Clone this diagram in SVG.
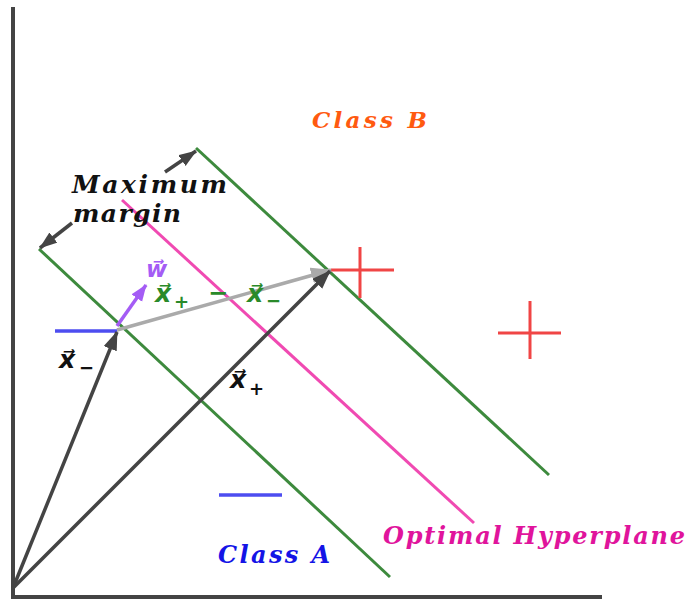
<svg xmlns="http://www.w3.org/2000/svg" width="692" height="601" viewBox="0 0 692 601">
<style>
.t{font-family:"DejaVu Serif","Liberation Serif",serif;font-weight:bold;font-style:italic}
.m{font-family:"DejaVu Sans","Liberation Sans",sans-serif;font-weight:bold;font-style:oblique}
.v{font-family:"DejaVu Sans","Liberation Sans",sans-serif;font-weight:bold;font-style:normal}
.green{stroke:#3d8a3d;stroke-width:3;fill:none}
.pink{stroke:#f04ab2;stroke-width:3;fill:none}
.red{stroke:#f04545;stroke-width:3;fill:none}
.blue{stroke:#4d4df0;stroke-width:3.5;fill:none}
.dark{stroke:#444;stroke-width:3.5;fill:none}
</style>
<defs>
<marker id="ad" markerUnits="userSpaceOnUse" markerWidth="22" markerHeight="16" refX="18" refY="7" orient="auto"><path d="M0,0 L19,7 L0,14 Z" fill="#444"/></marker>
<marker id="ag" markerUnits="userSpaceOnUse" markerWidth="24" markerHeight="18" refX="20" refY="8" orient="auto"><path d="M0,0 L21,8 L0,16 Z" fill="#aaa"/></marker>
<marker id="ap" markerUnits="userSpaceOnUse" markerWidth="22" markerHeight="16" refX="16" refY="6.5" orient="auto"><path d="M0,0 L17,6.5 L0,13 Z" fill="#a45cf5"/></marker>
<marker id="am" markerUnits="userSpaceOnUse" markerWidth="22" markerHeight="16" refX="17" refY="6.5" orient="auto"><path d="M0,0 L18,6.5 L0,13 Z" fill="#444"/></marker>
</defs>
<g id="axes">
<line x1="13" y1="7" x2="13" y2="597" stroke="#444" stroke-width="4"/>
<line x1="11" y1="597" x2="602" y2="597" stroke="#444" stroke-width="4"/>
</g>
<g id="margin-lines">
<line class="green" x1="39" y1="249" x2="390" y2="577"/>
<line class="green" x1="196" y1="148" x2="549" y2="475"/>
</g>
<g id="hyperplane">
<line class="pink" x1="122" y1="200" x2="474" y2="523"/>
</g>
<g id="classB-points">
<line class="red" x1="331" y1="270" x2="394" y2="270"/>
<line class="red" x1="360" y1="247" x2="360" y2="298"/>
<line class="red" x1="498" y1="333" x2="561" y2="333"/>
<line class="red" x1="530" y1="301" x2="530" y2="359"/>
</g>
<g id="classA-points">
<line class="blue" x1="55" y1="331" x2="117" y2="331"/>
<line class="blue" x1="219" y1="495" x2="282" y2="495"/>
</g>
<g id="connectors">
<line stroke="#aaa" stroke-width="3.5" x1="117" y1="330" x2="331" y2="270" marker-end="url(#ag)"/>
<line class="dark" x1="13" y1="588" x2="117" y2="332" marker-end="url(#ad)"/>
<line class="dark" x1="13" y1="588" x2="330" y2="271" marker-end="url(#ad)"/>
<line stroke="#a45cf5" stroke-width="3.5" x1="117" y1="326" x2="146" y2="285" marker-end="url(#ap)"/>
<line class="dark" x1="165" y1="172" x2="196" y2="151" marker-end="url(#am)"/>
<line class="dark" x1="72" y1="223" x2="40" y2="248" marker-end="url(#am)"/>
</g>
<g id="labels" class="t">
<text font-size="25" fill="#111"><tspan x="72" y="193" textLength="155" lengthAdjust="spacing">Maximum</tspan><tspan x="73" y="222" textLength="108" lengthAdjust="spacing">margin</tspan></text>
<text x="312" y="128" font-size="23" textLength="115" lengthAdjust="spacing" fill="#ff5a10">Class B</text>
<text x="218" y="563" font-size="24" textLength="112" lengthAdjust="spacing" fill="#1414e6">Class A</text>
<text x="383" y="544" font-size="24" textLength="302" lengthAdjust="spacing" fill="#e0149c">Optimal Hyperplane</text>

<text class="m" x="146" y="277" font-size="23" fill="#a45cf5">w&#x20D7;</text>

<text class="m" font-size="25" fill="#111"><tspan x="59" y="368">x&#x20D7;</tspan><tspan class="v" x="79" y="374" font-size="18">−</tspan></text>

<text class="m" font-size="25" fill="#111"><tspan x="230" y="388">x&#x20D7;</tspan><tspan class="v" x="249" y="395" font-size="18">+</tspan></text>

<text class="m" font-size="25" fill="#2a8a2a"><tspan x="155" y="302">x&#x20D7;</tspan><tspan class="v" x="174" y="308" font-size="18">+</tspan><tspan class="v" x="208" y="301" font-size="24">−</tspan><tspan x="247" y="302">x&#x20D7;</tspan><tspan class="v" x="266" y="307" font-size="18">−</tspan></text>
</g>
</svg>
